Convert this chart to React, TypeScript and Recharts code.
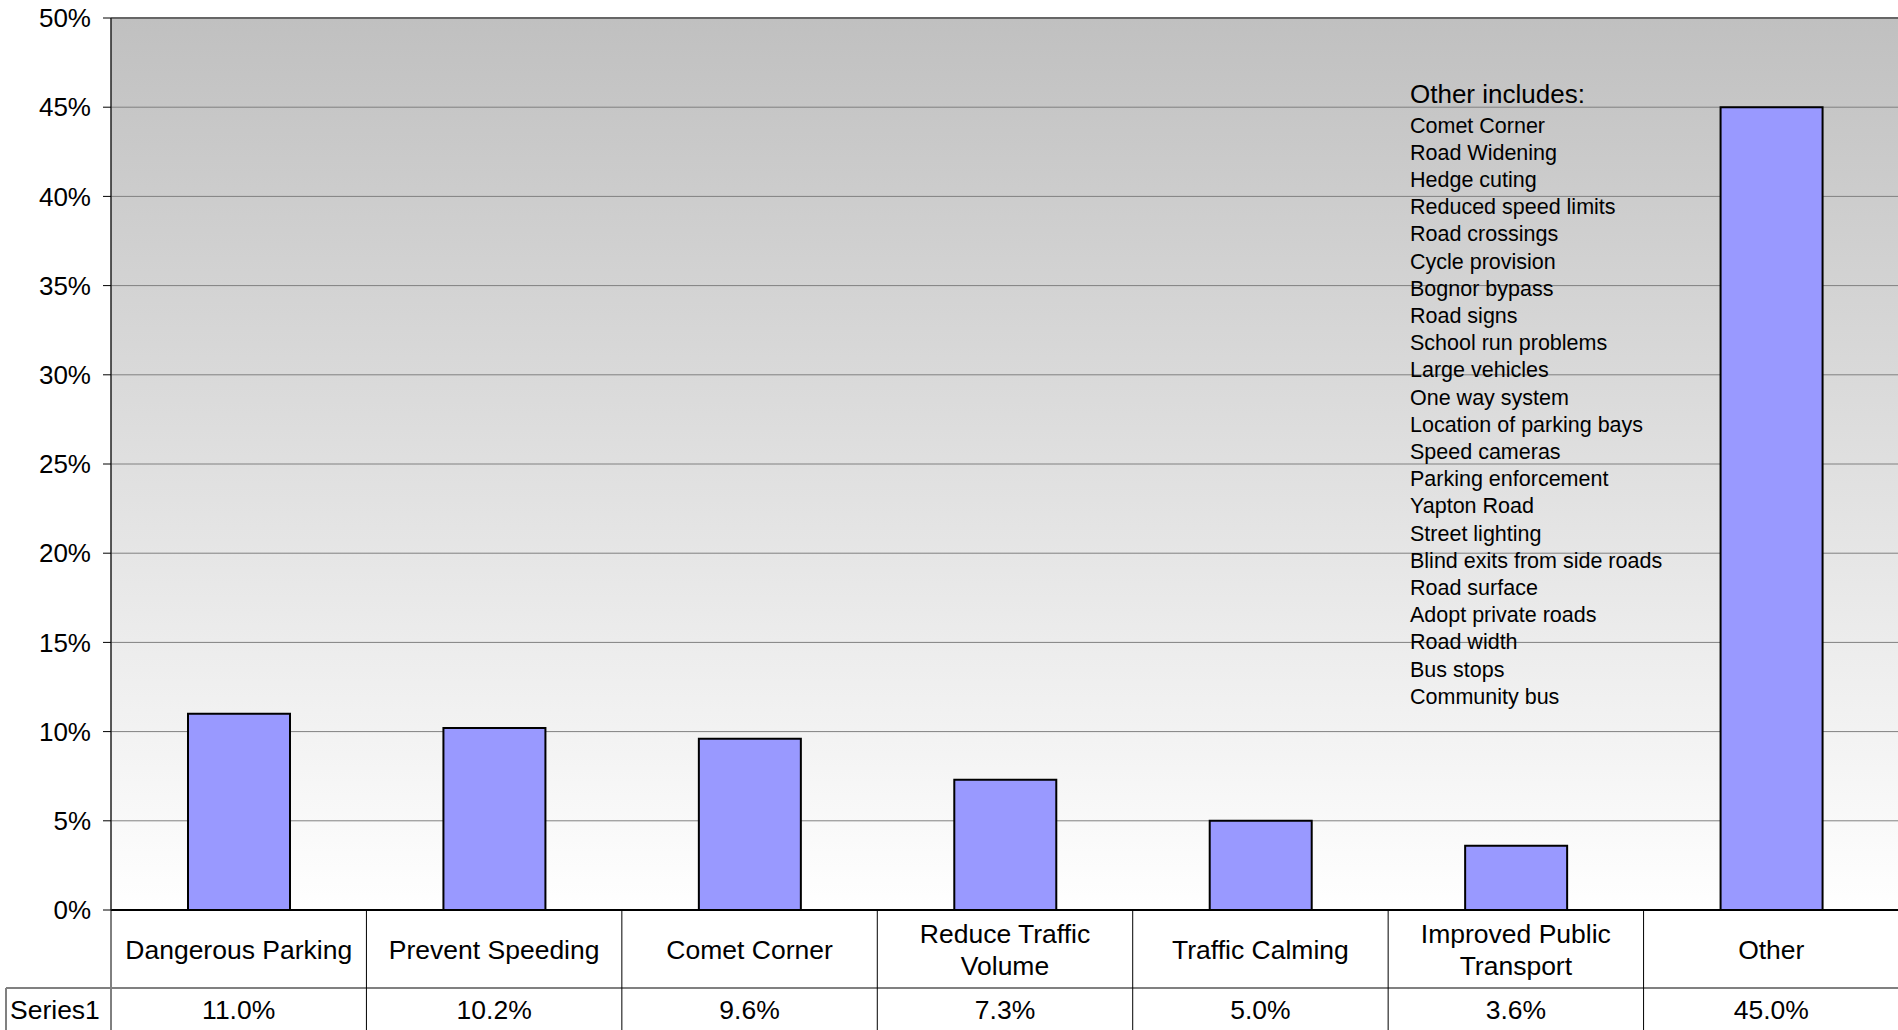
import React from 'react';
import { BarChart, Bar, XAxis, YAxis, CartesianGrid, ReferenceLine, Customized } from 'recharts';

// categories ("\n" marks where the table cell wraps)
const categories = [
  'Dangerous Parking',
  'Prevent Speeding',
  'Comet Corner',
  'Reduce Traffic\nVolume',
  'Traffic Calming',
  'Improved Public\nTransport',
  'Other',
];
const values = [11.0, 10.2, 9.6, 7.3, 5.0, 3.6, 45.0];
const yTicks = [0, 5, 10, 15, 20, 25, 30, 35, 40, 45, 50];
const seriesName = 'Series1';
const otherTitle = 'Other includes:';
const otherIncludes = [
  'Comet Corner',
  'Road Widening',
  'Hedge cuting',
  'Reduced speed limits',
  'Road crossings',
  'Cycle provision',
  'Bognor bypass',
  'Road signs',
  'School run problems',
  'Large vehicles',
  'One way system',
  'Location of parking bays',
  'Speed cameras',
  'Parking enforcement',
  'Yapton Road',
  'Street lighting',
  'Blind exits from side roads',
  'Road surface',
  'Adopt private roads',
  'Road width',
  'Bus stops',
  'Community bus',
];

const data = categories.map((name, i) => ({ name, value: values[i] }));

const FONT = '"Liberation Sans", Arial, sans-serif';
const BAR_FILL = '#9999FF';
const PLOT_WIDTH = 1788;
const BAND = PLOT_WIDTH / categories.length;

// data table drawn under the axis: category row + value row
const TableTick = (props: any) => {
  const { x, y, payload, index } = props;
  const lines = String(payload.value).split('\n');
  const left = x - BAND / 2;
  const labelMid = y + 40;
  const rowY = y + 78;
  const valueMid = y + 100;
  return (
    <g>
      <line x1={left} y1={y} x2={left} y2={y + 130} stroke="#000" strokeWidth={1} />
      {lines.map((l, i) => (
        <text
          key={i}
          x={x}
          y={labelMid + (i - (lines.length - 1) / 2) * 32}
          dy="0.35em"
          textAnchor="middle"
          fontSize={26.5}
          fontFamily={FONT}
          fill="#000"
        >
          {l}
        </text>
      ))}
      <text x={x} y={valueMid} dy="0.35em" textAnchor="middle" fontSize={26.5} fontFamily={FONT} fill="#000">
        {values[index].toFixed(1)}%
      </text>
      {index === 0 && (
        <g>
          <line x1={6} y1={rowY} x2={left + PLOT_WIDTH + 10} y2={rowY} stroke="#808080" strokeWidth={2} />
          <line x1={6} y1={rowY} x2={6} y2={y + 130} stroke="#808080" strokeWidth={2} />
          <text x={10} y={valueMid} dy="0.35em" textAnchor="start" fontSize={26.5} fontFamily={FONT} fill="#000">
            {seriesName}
          </text>
        </g>
      )}
    </g>
  );
};

const OtherNote = () => (
  <g fontFamily={FONT} fill="#000">
    <text x={1410} y={94} dy="0.35em" fontSize={26}>
      {otherTitle}
    </text>
    {otherIncludes.map((t, i) => (
      <text key={t} x={1410} y={125 + i * 27.2} dy="0.35em" fontSize={21.5}>
        {t}
      </text>
    ))}
  </g>
);

export default function App() {
  return (
    <div style={{ position: 'fixed', left: 0, top: 0, width: 1898, height: 1030, overflow: 'hidden', background: '#fff' }}>
      <BarChart
        width={1899}
        height={1030}
        data={data}
        margin={{ top: 18, right: 0, left: 0, bottom: 0 }}
      >
        <defs>
          <linearGradient id="plotBg" x1="0" y1="0" x2="0" y2="1">
            <stop offset="0%" stopColor="#c0c0c0" />
            <stop offset="100%" stopColor="#ffffff" />
          </linearGradient>
        </defs>
        <CartesianGrid vertical={false} stroke="#808080" strokeWidth={1} fill="url(#plotBg)" />
        <ReferenceLine y={50} stroke="#666" strokeWidth={2} />
        <XAxis
          dataKey="name"
          interval={0}
          height={120}
          tickLine={false}
          tickSize={0}
          tickMargin={0}
          axisLine={{ stroke: '#000', strokeWidth: 2 }}
          tick={<TableTick />}
        />
        <YAxis
          width={111}
          domain={[0, 50]}
          ticks={yTicks}
          interval={0}
          tickFormatter={(v) => `${v}%`}
          tickSize={8}
          tickMargin={12}
          tickLine={{ stroke: '#000' }}
          axisLine={{ stroke: '#222', strokeWidth: 1.5 }}
          tick={{ fontSize: 26, fontFamily: FONT, fill: '#000' }}
        />
        <Bar dataKey="value" fill={BAR_FILL} stroke="#000" strokeWidth={2} barSize={102} isAnimationActive={false} />
        <Customized component={OtherNote} />
      </BarChart>
    </div>
  );
}
